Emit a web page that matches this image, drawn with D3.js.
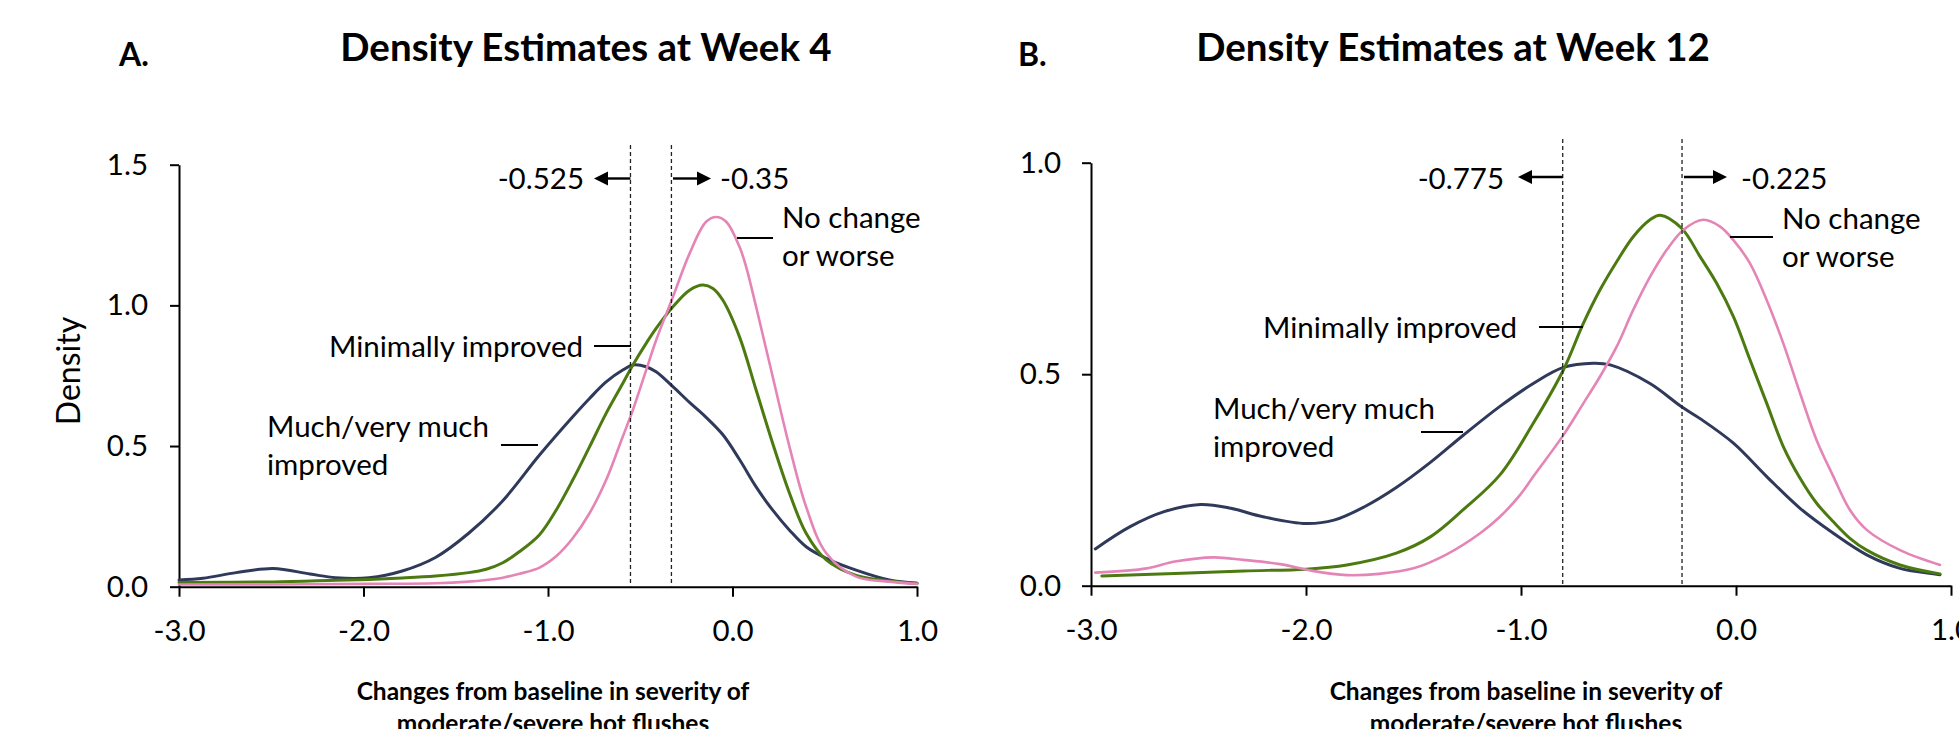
<!DOCTYPE html>
<html><head><meta charset="utf-8">
<script src="https://cdn.jsdelivr.net/npm/d3@7"></script>
<style>
body{margin:0;background:#fff;}
svg{display:block;font-family:Lato,"Noto Sans",sans-serif;}
</style>
</head><body>
<svg id="chart" width="1959" height="729"></svg>
<script>
// ---------- data ----------
const xTickValues = [-3, -2, -1, 0, 1];
const yTicksWeek4 = [0, 0.5, 1.0, 1.5];
const yTicksWeek12 = [0, 0.5, 1.0];
const panelLetters = ["A.", "B."];
const panelTitles = ["Density Estimates at Week 4", "Density Estimates at Week 12"];
const xTitleLines = ["Changes from baseline in severity of", "moderate/severe hot flushes"];
const yTitle = "Density";
const seriesLabels = ["Much/very much|improved", "Minimally improved", "No change|or worse"];

// Week 4 densities [change, density]
const week4Much = [[-3.0,0.024],[-2.87,0.030],[-2.69,0.050],[-2.49,0.065],[-2.29,0.045],[-2.15,0.032],[-1.97,0.032],[-1.79,0.056],[-1.61,0.104],[-1.43,0.19],[-1.25,0.302],[-1.046,0.468],[-0.866,0.604],[-0.775,0.669],[-0.685,0.728],[-0.595,0.770],[-0.54,0.788],[-0.468,0.782],[-0.414,0.764],[-0.323,0.711],[-0.233,0.655],[-0.143,0.602],[-0.052,0.540],[0.038,0.452],[0.128,0.355],[0.218,0.272],[0.309,0.201],[0.399,0.142],[0.508,0.101],[0.67,0.059],[0.85,0.024],[1.0,0.012]];
const week4Minimal = [[-3.0,0.015],[-2.49,0.017],[-2.15,0.023],[-1.97,0.026],[-1.79,0.031],[-1.61,0.038],[-1.43,0.050],[-1.335,0.062],[-1.245,0.085],[-1.154,0.125],[-1.046,0.185],[-0.956,0.272],[-0.866,0.379],[-0.775,0.497],[-0.685,0.616],[-0.595,0.722],[-0.54,0.788],[-0.468,0.865],[-0.414,0.918],[-0.323,0.995],[-0.233,1.054],[-0.16,1.072],[-0.106,1.060],[-0.052,1.018],[0.038,0.888],[0.128,0.699],[0.218,0.509],[0.309,0.332],[0.399,0.190],[0.508,0.095],[0.67,0.040],[0.85,0.020],[1.0,0.012]];
const week4NoChange = [[-3.0,0.008],[-2.49,0.008],[-1.97,0.010],[-1.61,0.012],[-1.43,0.018],[-1.335,0.024],[-1.245,0.032],[-1.154,0.046],[-1.046,0.068],[-0.956,0.108],[-0.866,0.172],[-0.775,0.261],[-0.685,0.379],[-0.595,0.533],[-0.54,0.628],[-0.468,0.770],[-0.414,0.876],[-0.323,1.030],[-0.233,1.184],[-0.143,1.297],[-0.088,1.314],[-0.034,1.297],[0.038,1.208],[0.074,1.137],[0.128,0.995],[0.218,0.746],[0.309,0.497],[0.399,0.284],[0.508,0.119],[0.67,0.036],[0.85,0.018],[1.0,0.010]];

// Week 12 densities [change, density]
const week12Much = [[-2.98,0.087],[-2.82,0.139],[-2.66,0.175],[-2.49,0.192],[-2.35,0.183],[-2.2,0.163],[-2.0,0.147],[-1.87,0.155],[-1.73,0.186],[-1.58,0.232],[-1.42,0.292],[-1.27,0.355],[-1.098,0.424],[-0.943,0.478],[-0.803,0.516],[-0.664,0.526],[-0.585,0.522],[-0.4,0.478],[-0.253,0.423],[-0.167,0.395],[-0.012,0.337],[0.143,0.258],[0.298,0.183],[0.453,0.124],[0.608,0.073],[0.763,0.041],[0.918,0.028],[0.949,0.026]];
const week12Minimal = [[-2.95,0.023],[-2.61,0.029],[-2.29,0.035],[-2.0,0.039],[-1.81,0.049],[-1.58,0.077],[-1.42,0.116],[-1.27,0.179],[-1.098,0.262],[-0.943,0.384],[-0.803,0.510],[-0.71,0.620],[-0.633,0.699],[-0.555,0.766],[-0.478,0.825],[-0.4,0.865],[-0.353,0.876],[-0.253,0.845],[-0.167,0.778],[-0.09,0.715],[-0.012,0.636],[0.065,0.534],[0.143,0.431],[0.22,0.329],[0.298,0.254],[0.375,0.195],[0.453,0.151],[0.53,0.112],[0.608,0.084],[0.763,0.049],[0.949,0.028]];
const week12NoChange = [[-2.98,0.031],[-2.74,0.041],[-2.61,0.057],[-2.43,0.067],[-2.29,0.061],[-2.12,0.051],[-1.97,0.035],[-1.81,0.025],[-1.66,0.028],[-1.5,0.041],[-1.35,0.073],[-1.19,0.124],[-1.098,0.163],[-1.005,0.214],[-0.943,0.258],[-0.803,0.356],[-0.71,0.431],[-0.633,0.494],[-0.555,0.565],[-0.478,0.652],[-0.4,0.730],[-0.322,0.794],[-0.245,0.841],[-0.152,0.865],[-0.074,0.849],[-0.012,0.817],[0.065,0.762],[0.143,0.675],[0.22,0.573],[0.298,0.455],[0.375,0.344],[0.453,0.258],[0.53,0.179],[0.608,0.132],[0.763,0.084],[0.949,0.049]];

// cut-off lines (positions as drawn) and their printed values
const cutoffsWeek4 = [-0.553, -0.331];
const cutoffLabelsWeek4 = ["-0.525", "-0.35"];
const cutoffsWeek12 = [-0.806, -0.251];
const cutoffLabelsWeek12 = ["-0.775", "-0.225"];

// ---------- styles / layout ----------
const colors = ["#2f3a5b", "#4c7a10", "#e585b7"];
const widths = [3, 3, 2.6];
const FONT_LABEL = 29.5;
const FONT_TICK = 29.5;

const panels = [
  { letter: panelLetters[0], title: panelTitles[0], series: [week4Much, week4Minimal, week4NoChange],
    yTicks: yTicksWeek4, ymax: 1.5, left: 179, right: 917, top: 164.7, bottom: 586.7,
    cutoffs: cutoffsWeek4, cutoffLabels: cutoffLabelsWeek4, dashTop: 145,
    letterX: 119, titleX: 586, xTitleX: 553, yTitle: true, tickPad: 22,
    arrows: { y: 178.5, lTip: 594, lText: 584, rStart: 673, rTip: 711, rText: 720, base: 189 },
    labels: [
      { text: seriesLabels[0], x: 267, y: 437, anchor: "start", lead: [501, 538, 445] },
      { text: seriesLabels[1], x: 583, y: 357, anchor: "end", lead: [594, 631, 346] },
      { text: seriesLabels[2], x: 782, y: 228, anchor: "start", lead: [737, 773, 238] }
    ] },
  { letter: panelLetters[1], title: panelTitles[1], series: [week12Much, week12Minimal, week12NoChange],
    yTicks: yTicksWeek12, ymax: 1.0, left: 1091, right: 1951, top: 162.7, bottom: 585.7,
    cutoffs: cutoffsWeek12, cutoffLabels: cutoffLabelsWeek12, dashTop: 139,
    letterX: 1018, titleX: 1453, xTitleX: 1526, yTitle: false, tickPad: 21,
    arrows: { y: 177, lTip: 1518, lText: 1504, rStart: 1684, rTip: 1727, rText: 1741, base: 189 },
    labels: [
      { text: seriesLabels[0], x: 1213, y: 419, anchor: "start", lead: [1421, 1463, 432] },
      { text: seriesLabels[1], x: 1517, y: 338, anchor: "end", lead: [1539, 1583, 327] },
      { text: seriesLabels[2], x: 1782, y: 229, anchor: "start", lead: [1730, 1773, 237] }
    ] }
];

const svg = d3.select("#chart");
const fmt = d => d.toFixed(1);

function arrowHead(g, tipX, y, dir) {
  const L = 14, H = 7;
  g.append("path")
    .attr("d", `M${tipX},${y} L${tipX - dir * L},${y - H} L${tipX - dir * L},${y + H} Z`)
    .attr("fill", "#000");
}

panels.forEach(p => {
  const g = svg.append("g");
  const x = d3.scaleLinear().domain([-3, 1]).range([p.left, p.right]);
  const y = d3.scaleLinear().domain([0, p.ymax]).range([p.bottom, p.top]);

  // titles
  g.append("text").attr("x", p.letterX).attr("y", 66).attr("font-size", 32).attr("font-weight", 700).text(p.letter);
  g.append("text").attr("x", p.titleX).attr("y", 61).attr("text-anchor", "middle")
    .attr("font-size", 38.5).attr("font-weight", 700).text(p.title);

  // axes
  const yAxis = d3.axisLeft(y).tickValues(p.yTicks).tickFormat(fmt)
    .tickSize(9).tickSizeOuter(0).tickPadding(p.tickPad);
  const xAxis = d3.axisBottom(x).tickValues(xTickValues).tickFormat(fmt)
    .tickSize(10).tickSizeOuter(0).tickPadding(23);
  const ya = g.append("g").attr("transform", `translate(${p.left},0)`).call(yAxis);
  const xa = g.append("g").attr("transform", `translate(0,${p.bottom})`).call(xAxis);
  [ya, xa].forEach(a => {
    a.select(".domain").attr("stroke", "#000").attr("stroke-width", 2);
    a.selectAll(".tick line").attr("stroke", "#000").attr("stroke-width", 2);
    a.selectAll(".tick text").attr("fill", "#000").attr("font-size", FONT_TICK)
      .attr("font-family", "Lato, 'Noto Sans', sans-serif");
  });

  // x-axis title
  xTitleLines.forEach((t, i) => {
    g.append("text").attr("x", p.xTitleX).attr("y", 700 + i * 32).attr("text-anchor", "middle")
      .attr("font-size", 24.5).attr("font-weight", 700).text(t);
  });
  if (p.yTitle) {
    g.append("text").attr("transform", "translate(67,371) rotate(-90)")
      .attr("text-anchor", "middle").attr("dominant-baseline", "central")
      .attr("font-size", 32).text(yTitle);
  }

  // curves
  const line = d3.line().x(d => x(d[0])).y(d => y(d[1])).curve(d3.curveCatmullRom.alpha(0.5));
  p.series.forEach((s, i) => {
    g.append("path").datum(s).attr("d", line).attr("fill", "none")
      .attr("stroke", colors[i]).attr("stroke-width", widths[i])
      .attr("stroke-linejoin", "round").attr("stroke-linecap", "round");
  });

  // cut-off dashed lines
  p.cutoffs.forEach(c => {
    g.append("line").attr("x1", x(c)).attr("x2", x(c)).attr("y1", p.dashTop).attr("y2", p.bottom)
      .attr("stroke", "#222").attr("stroke-width", 1.3).attr("stroke-dasharray", "4,3");
  });

  // arrows and cut-off values
  const a = p.arrows;
  const lx = x(p.cutoffs[0]);
  g.append("line").attr("x1", lx).attr("x2", a.lTip + 10).attr("y1", a.y).attr("y2", a.y)
    .attr("stroke", "#000").attr("stroke-width", 2.4);
  arrowHead(g, a.lTip, a.y, -1);
  g.append("text").attr("x", a.lText).attr("y", a.base).attr("text-anchor", "end")
    .attr("font-size", FONT_LABEL).text(p.cutoffLabels[0]);
  g.append("line").attr("x1", a.rStart).attr("x2", a.rTip - 10).attr("y1", a.y).attr("y2", a.y)
    .attr("stroke", "#000").attr("stroke-width", 2.4);
  arrowHead(g, a.rTip, a.y, 1);
  g.append("text").attr("x", a.rText).attr("y", a.base).attr("text-anchor", "start")
    .attr("font-size", FONT_LABEL).text(p.cutoffLabels[1]);

  // series labels with leader lines
  p.labels.forEach(l => {
    const t = g.append("text").attr("x", l.x).attr("y", l.y).attr("text-anchor", l.anchor)
      .attr("font-size", FONT_LABEL);
    l.text.split("|").forEach((s, i) => {
      t.append("tspan").attr("x", l.x).attr("dy", i === 0 ? 0 : 37.5).text(s);
    });
    g.append("line").attr("x1", l.lead[0]).attr("x2", l.lead[1]).attr("y1", l.lead[2]).attr("y2", l.lead[2])
      .attr("stroke", "#000").attr("stroke-width", 2);
  });
});
</script>
</body></html>
